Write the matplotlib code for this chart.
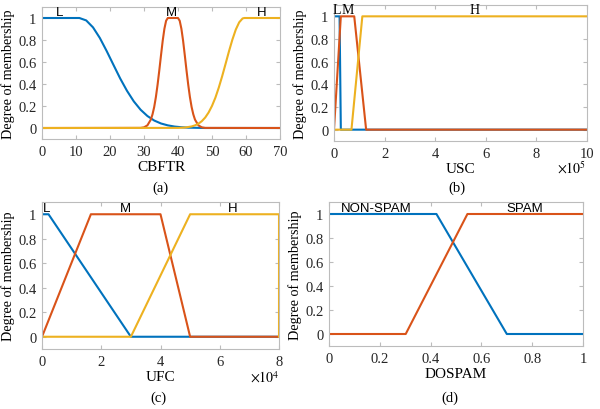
import matplotlib
matplotlib.use("Agg")
import matplotlib.pyplot as plt

plt.rcParams["mathtext.fontset"] = "stix"

# ---------------- data ----------------
# (a) CBFTR  (smooth membership curves)
a_L_x = [0, 11, 13, 15, 17, 19, 21, 23, 25, 27, 29, 31, 33, 35, 37, 39, 41, 43, 45, 48, 70]
a_L_y = [1, 1, 0.978, 0.915, 0.819, 0.701, 0.575, 0.450, 0.338, 0.242, 0.166, 0.109, 0.068,
         0.041, 0.024, 0.013, 0.007, 0.003, 0.002, 0, 0]
a_M_x = [0, 29, 30, 31, 32, 32.5, 33, 33.5, 34, 34.5, 35, 35.5, 36, 36.5, 37, 40, 40.5, 41,
         41.5, 42, 42.5, 43, 43.5, 44, 44.5, 45, 46, 47, 48, 70]
a_M_y = [0, 0.001, 0.006, 0.024, 0.076, 0.124, 0.191, 0.282, 0.395, 0.524, 0.661, 0.793, 0.902,
         0.975, 1, 1, 0.975, 0.902, 0.793, 0.661, 0.524, 0.395, 0.282, 0.191, 0.124, 0.076,
         0.024, 0.006, 0.001, 0]
a_H_x = [0, 40, 42, 44, 45, 46, 47, 48, 49, 50, 51, 52, 53, 54, 55, 56, 57, 58, 59, 59.5, 70]
a_H_y = [0, 0.001, 0.004, 0.014, 0.024, 0.039, 0.062, 0.095, 0.141, 0.201, 0.276, 0.368,
         0.472, 0.584, 0.698, 0.804, 0.895, 0.961, 0.996, 1, 1]

# (b) USC
b_L_x = [0, 22000, 27000, 1000000]
b_L_y = [1, 1, 0, 0]
b_M_x = [0, 27000, 80000, 127000, 1000000]
b_M_y = [0, 1, 1, 0, 0]
b_H_x = [0, 69000, 112000, 1000000]
b_H_y = [0, 0, 1, 1]

# (c) UFC
c_L_x = [0, 2200, 30000, 80000]
c_L_y = [1, 1, 0, 0]
c_M_x = [0, 16500, 40000, 50000, 80000]
c_M_y = [0, 1, 1, 0, 0]
c_H_x = [0, 30000, 50000, 80000, 80000]
c_H_y = [0, 0, 1, 1, 0]

# (d) DOSPAM
d_N_x = [0, 0.423, 0.70, 1.0]
d_N_y = [1, 1, 0, 0]
d_S_x = [0, 0.302, 0.545, 1.0]
d_S_y = [0, 0, 1, 1]

yticks = [0, 0.2, 0.4, 0.6, 0.8, 1]
ytick_labels = ["0", "0.2", "0.4", "0.6", "0.8", "1"]
a_xticks = [0, 10, 20, 30, 40, 50, 60, 70]
b_xticks = [0, 2e5, 4e5, 6e5, 8e5, 1e6]
b_xtick_labels = ["0", "2", "4", "6", "8", "10"]
c_xticks = [0, 2e4, 4e4, 6e4, 8e4]
c_xtick_labels = ["0", "2", "4", "6", "8"]
d_xticks = [0, 0.2, 0.4, 0.6, 0.8, 1]
d_xtick_labels = ["0", "0.2", "0.4", "0.6", "0.8", "1"]

BLUE = "#0072BD"
RED = "#D95319"
YEL = "#EDB120"
SERIF = "Liberation Serif"
SANS = "Liberation Sans"
W, H = 600, 410

fig = plt.figure(figsize=(6, 4.1), dpi=100)


def px_axes(left, top, right, bottom):
    return fig.add_axes([left / W, 1 - bottom / H, (right - left) / W, (bottom - top) / H])


def style(ax, xlim, xticks, xlabels):
    ax.set_xlim(*xlim)
    ax.set_ylim(-0.1, 1.1)
    ax.set_xticks(xticks)
    ax.set_xticklabels(xlabels, family=SERIF, fontsize=10.5, color="#262626")
    ax.set_yticks(yticks)
    ax.set_yticklabels(ytick_labels, family=SERIF, fontsize=10.5, color="#262626")
    for s in ax.spines.values():
        s.set_color("#bcbcbc")
        s.set_linewidth(0.8)
    ax.tick_params(direction="in", length=3, color="#bcbcbc", width=0.8, pad=4,
                   top=True, right=True)
    ax.set_ylabel("Degree of membership", family=SERIF, fontsize=10.2, labelpad=2)


def ftext(x, y, s, **kw):
    fig.text(x / W, 1 - y / H, s, ha="center", va="center", **kw)


lw = 1.5

# (a)
ax = px_axes(42, 8, 280, 140)
ax.plot(a_L_x, a_L_y, color=BLUE, lw=lw)
ax.plot(a_M_x, a_M_y, color=RED, lw=lw)
ax.plot(a_H_x, a_H_y, color=YEL, lw=lw)
style(ax, (0, 70), a_xticks, [str(v) for v in a_xticks])
ax.set_xlabel("CBFTR", family=SERIF, fontsize=11, labelpad=2)
for lab, xv in [("L", 5.2), ("M", 38.2), ("H", 64.5)]:
    ax.text(xv, 1.0, lab, family=SANS, fontsize=9.5, ha="center", va="bottom")
ftext(160, 188, "(a)", family=SERIF, fontsize=10.5)

# (b)
ax = px_axes(334, 6, 587, 142)
ax.plot(b_L_x, b_L_y, color=BLUE, lw=lw)
ax.plot(b_M_x, b_M_y, color=RED, lw=lw)
ax.plot(b_H_x, b_H_y, color=YEL, lw=lw)
style(ax, (0, 1e6), b_xticks, b_xtick_labels)
ax.set_xlabel("USC", family=SERIF, fontsize=11, labelpad=2)
for lab, xv in [("L", 0.11e5), ("M", 0.54e5), ("H", 5.57e5)]:
    ax.text(xv, 1.0, lab, family=SERIF, fontsize=10, ha="center", va="bottom")
ftext(572, 169, r"$\times10^5$", family=SERIF, fontsize=10)
ftext(457, 188, "(b)", family=SERIF, fontsize=10.5)

# (c)
ax = px_axes(42, 203, 279, 350)
ax.plot(c_L_x, c_L_y, color=BLUE, lw=lw)
ax.plot(c_M_x, c_M_y, color=RED, lw=lw)
ax.plot(c_H_x, c_H_y, color=YEL, lw=lw)
style(ax, (0, 8e4), c_xticks, c_xtick_labels)
ax.set_xlabel("UFC", family=SERIF, fontsize=11, labelpad=2)
for lab, xv in [("L", 0.16e4), ("M", 2.8e4), ("H", 6.45e4)]:
    ax.text(xv, 1.0, lab, family=SANS, fontsize=9.5, ha="center", va="bottom")
ftext(265, 378, r"$\times10^4$", family=SERIF, fontsize=10)
ftext(158, 398, "(c)", family=SERIF, fontsize=10.5)

# (d)
ax = px_axes(329, 203, 583, 347)
ax.plot(d_N_x, d_N_y, color=BLUE, lw=lw)
ax.plot(d_S_x, d_S_y, color=RED, lw=lw)
style(ax, (0, 1), d_xticks, d_xtick_labels)
ax.set_xlabel("DOSPAM", family=SERIF, fontsize=11, labelpad=2)
for lab, xv in [("NON-SPAM", 0.186), ("SPAM", 0.77)]:
    ax.text(xv, 1.0, lab, family=SANS, fontsize=9.5, ha="center", va="bottom")
ftext(450, 398, "(d)", family=SERIF, fontsize=10.5)

fig.savefig("out.png", dpi=100)
